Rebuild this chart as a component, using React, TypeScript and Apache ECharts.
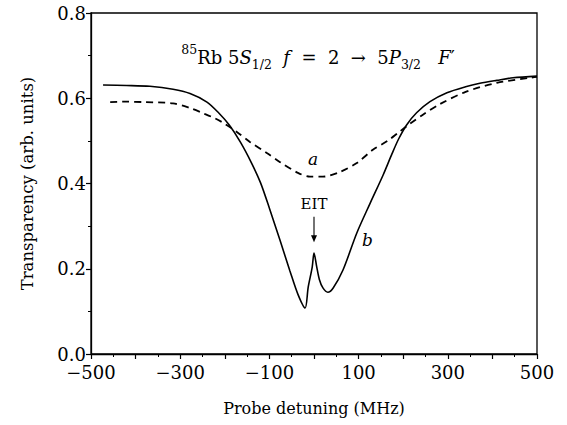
import React, { useEffect, useRef } from "react";
import * as echarts from "echarts";

// Curve b (solid): probe detuning (MHz) and transparency
const bDetuning = [-473, -420, -368, -316, -278, -240, -215, -190, -165, -140, -120, -100, -76, -54, -36, -20, -13, -4, 0, 6, 12, 20, 31, 43, 65, 96, 126, 155, 175, 190, 208, 230, 260, 298, 340, 372, 410, 446, 500];
const bTransparency = [0.631, 0.630, 0.628, 0.621, 0.611, 0.591, 0.567, 0.537, 0.497, 0.448, 0.402, 0.342, 0.266, 0.195, 0.140, 0.108, 0.157, 0.204, 0.237, 0.205, 0.175, 0.155, 0.145, 0.155, 0.197, 0.284, 0.354, 0.420, 0.470, 0.505, 0.538, 0.566, 0.592, 0.613, 0.627, 0.635, 0.642, 0.648, 0.652];

// Curve a (dashed)
const aDetuning = [-457, -420, -383, -316, -278, -249, -222, -200, -173, -143, -105, -76, -36, -9, 20, 58, 96, 132, 165, 190, 215, 245, 280, 340, 410, 484, 500];
const aTransparency = [0.591, 0.592, 0.591, 0.588, 0.577, 0.565, 0.553, 0.540, 0.521, 0.497, 0.471, 0.450, 0.425, 0.416, 0.416, 0.427, 0.448, 0.479, 0.500, 0.520, 0.540, 0.562, 0.585, 0.615, 0.636, 0.648, 0.650];

const xLabelValues = [-500, -300, -100, 100, 300, 500];
const yLabelValues = [0.0, 0.2, 0.4, 0.6, 0.8];

const FONT = "'DejaVu Serif', 'Liberation Serif', serif";

export default function App() {
  const ref = useRef<HTMLDivElement>(null);
  useEffect(() => {
    document.body.style.margin = "0";
    const chart = echarts.init(ref.current!, null, { renderer: "svg" });
    const option: any = {
      animation: false,
      backgroundColor: "#fff",
      grid: { left: 91, right: 30, top: 13, bottom: 71, show: true, borderColor: "#000", borderWidth: 1.3, backgroundColor: "transparent" },
      xAxis: {
        type: "value", min: -500, max: 500, interval: 100,
        name: "Probe detuning (MHz)", nameLocation: "middle", nameGap: 46,
        nameTextStyle: { fontFamily: FONT, fontSize: 16, color: "#000" },
        axisLine: { onZero: false, lineStyle: { color: "#000", width: 1.3 } },
        axisTick: { inside: false, length: 5, lineStyle: { color: "#000", width: 1.2 } },
        minorTick: { show: true, splitNumber: 2, length: 3, lineStyle: { color: "#000", width: 1 } },
        splitLine: { show: false },
        axisLabel: {
          fontFamily: FONT, fontSize: 18, color: "#000", margin: 11, lineHeight: 14,
          formatter: (v: number) => (xLabelValues.includes(v) ? (v < 0 ? "\u2212" + Math.abs(v) : String(v)) : ""),
        },
      },
      yAxis: {
        type: "value", min: 0, max: 0.8, interval: 0.2,
        name: "Transparency (arb. units)", nameLocation: "middle", nameGap: 55,
        nameTextStyle: { fontFamily: FONT, fontSize: 16.5, color: "#000" },
        axisLine: { show: true, onZero: false, lineStyle: { color: "#000", width: 1.3 } },
        axisTick: { show: true, inside: false, length: 5, lineStyle: { color: "#000", width: 1.2 } },
        minorTick: { show: true, splitNumber: 2, length: 3, lineStyle: { color: "#000", width: 1 } },
        splitLine: { show: false },
        axisLabel: {
          fontFamily: FONT, fontSize: 18, color: "#000", margin: 5, lineHeight: 14,
          formatter: (v: number) => {
            const m = yLabelValues.find((t) => Math.abs(t - v) < 1e-6);
            return m !== undefined ? m.toFixed(1) : "";
          },
        },
      },
      series: [
        {
          name: "a", type: "line", data: aDetuning.map((x, i) => [x, aTransparency[i]]),
          showSymbol: false, smooth: 0.3,
          lineStyle: { color: "#000", width: 1.8, type: [7, 5] },
        },
        {
          name: "b", type: "line", data: bDetuning.map((x, i) => [x, bTransparency[i]]),
          showSymbol: false, smooth: 0.3,
          lineStyle: { color: "#000", width: 1.6 },
        },
      ],
    };
    chart.setOption(option);

    const px = (x: number, y: number) => chart.convertToPixel({ gridIndex: 0 }, [x, y]) as number[];
    const aPos = px(-2, 0.457);
    const eitPos = px(0, 0.352);
    const arrTop = px(0, 0.322);
    const arrBot = px(0, 0.262);
    const bPos = px(120, 0.267);

    chart.setOption({
      graphic: [
        {
          type: "text", x: 318, y: 57,
          style: {
            text: "{sup|85}{n|Rb 5}{it|S}{sub|1/2}{n|  }{it|f}{n|  =  2  \u2192  5}{it|P}{sub|3/2}{n|   }{it|F}{n|\u2032}",
            align: "center", verticalAlign: "middle",
            rich: {
              n: { fontFamily: FONT, fontSize: 18, color: "#000", lineHeight: 28, verticalAlign: "middle" },
              it: { fontFamily: FONT, fontSize: 18, fontStyle: "italic", color: "#000", lineHeight: 28, verticalAlign: "middle" },
              sup: { fontFamily: FONT, fontSize: 12.5, color: "#000", lineHeight: 28, verticalAlign: "top" },
              sub: { fontFamily: FONT, fontSize: 12.5, color: "#000", lineHeight: 28, verticalAlign: "bottom" },
            },
          },
        },
        { type: "text", x: aPos[0], y: aPos[1], style: { text: "a", fontFamily: FONT, fontSize: 17, fontStyle: "italic", fill: "#000", align: "center", verticalAlign: "middle" } },
        { type: "text", x: eitPos[0], y: eitPos[1], style: { text: "EIT", fontFamily: FONT, fontSize: 15, fill: "#000", align: "center", verticalAlign: "middle" } },
        { type: "line", shape: { x1: arrTop[0], y1: arrTop[1], x2: arrBot[0], y2: arrBot[1] - 4 }, style: { stroke: "#000", lineWidth: 1.1 } },
        { type: "polygon", shape: { points: [[arrBot[0] - 3, arrBot[1] - 7], [arrBot[0] + 3, arrBot[1] - 7], [arrBot[0], arrBot[1]]] }, style: { fill: "#000" } },
        { type: "text", x: bPos[0], y: bPos[1], style: { text: "b", fontFamily: FONT, fontSize: 17, fontStyle: "italic", fill: "#000", align: "center", verticalAlign: "middle" } },
      ],
    });
    return () => chart.dispose();
  }, []);
  return <div ref={ref} style={{ position: "absolute", left: 0, top: 0, width: 567, height: 425 }} />;
}
